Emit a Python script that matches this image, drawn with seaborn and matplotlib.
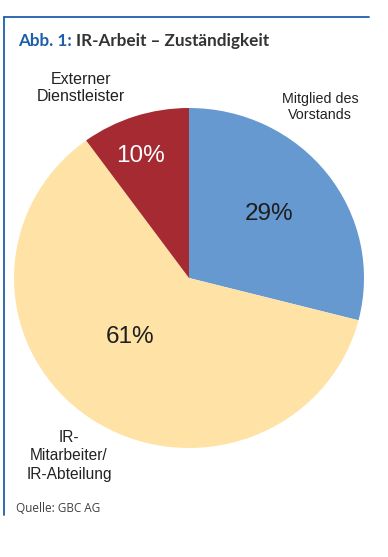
#!/usr/bin/env python3
"""Abb. 1: IR-Arbeit – Zuständigkeit (pie chart, GBC AG)."""
import matplotlib

matplotlib.use("Agg")
import matplotlib.pyplot as plt
import seaborn as sns
from matplotlib.lines import Line2D

CATEGORIES = ["Mitglied des\nVorstands", "IR-\nMitarbeiter/\nIR-Abteilung", "Externer\nDienstleister"]
SHARES = [29, 61, 10]
COLORS = ["#6699cf", "#ffe3a6", "#a52a32"]
PCT_COLORS = ["#1e1e1e", "#1e1e1e", "#ffffff"]

W, H = 388, 557
FRAME = "#1f5ea8"


def px(x, y):
    """pixel (from top-left) -> figure fraction"""
    return x / W, 1 - y / H


sns.set_theme(style="white")
plt.rcParams["font.family"] = ["Liberation Sans", "DejaVu Sans"]

fig = plt.figure(figsize=(W / 100, H / 100), dpi=100)

# pie axes: centre (189, 278) px, radii 175 x 170 px
cx, cy, rx, ry = 189, 278, 175, 170
ax = fig.add_axes([(cx - rx) / W, 1 - (cy + ry) / H, 2 * rx / W, 2 * ry / H])
wedges, _, autotexts = ax.pie(
    SHARES, colors=COLORS, startangle=90, counterclock=False,
    autopct="%d%%", wedgeprops=dict(linewidth=0),
    textprops=dict(fontsize=17.5),
)
ax.set_aspect("auto")
ax.set_xlim(-1, 1)
ax.set_ylim(-1, 1)
ax.axis("off")

pct_pos = [(0.457, 0.376), (-0.337, -0.347), (-0.277, 0.718)]
for t, pos, c in zip(autotexts, pct_pos, PCT_COLORS):
    t.set_position(pos)
    t.set_color(c)
    t.set_ha("center")
    t.set_va("center")

# outer category labels
label_pos = [(320, 107, 10.3, 1.25), (69, 456, 11.2, 1.25), (81, 88, 11.5, 1.15)]
for lab, (x, y, fs, ls) in zip(CATEGORIES, label_pos):
    fig.text(*px(x, y), lab, ha="center", va="center", fontsize=fs,
             color="#222222", linespacing=ls)

# frame lines
fig.add_artist(Line2D([4 / W, 369 / W], [1 - 17 / H, 1 - 17 / H], color=FRAME, lw=1.3))
fig.add_artist(Line2D([4 / W, 4 / W], [1 - 17 / H, 1 - 515 / H], color=FRAME, lw=1.3))

# title
TITLE_FONT = ["Lato", "DejaVu Sans"]
tx, ty = px(18, 41)
t1 = fig.text(tx, ty, "Abb. 1:", ha="left", va="center", fontsize=12.3,
              fontweight="bold", color="#1f5ea8", family=TITLE_FONT)
fig.canvas.draw()
bb = t1.get_window_extent()
fig.text((bb.x1 + 4) / W, ty, "IR-Arbeit – Zuständigkeit", ha="left", va="center",
         fontsize=12.3, fontweight="bold", color="#333333", family=TITLE_FONT)

fig.text(*px(16, 509), "Quelle: GBC AG", ha="left", va="center", fontsize=8.5,
         color="#404040", family=["Open Sans", "DejaVu Sans"])

fig.savefig("out.png", dpi=100)
